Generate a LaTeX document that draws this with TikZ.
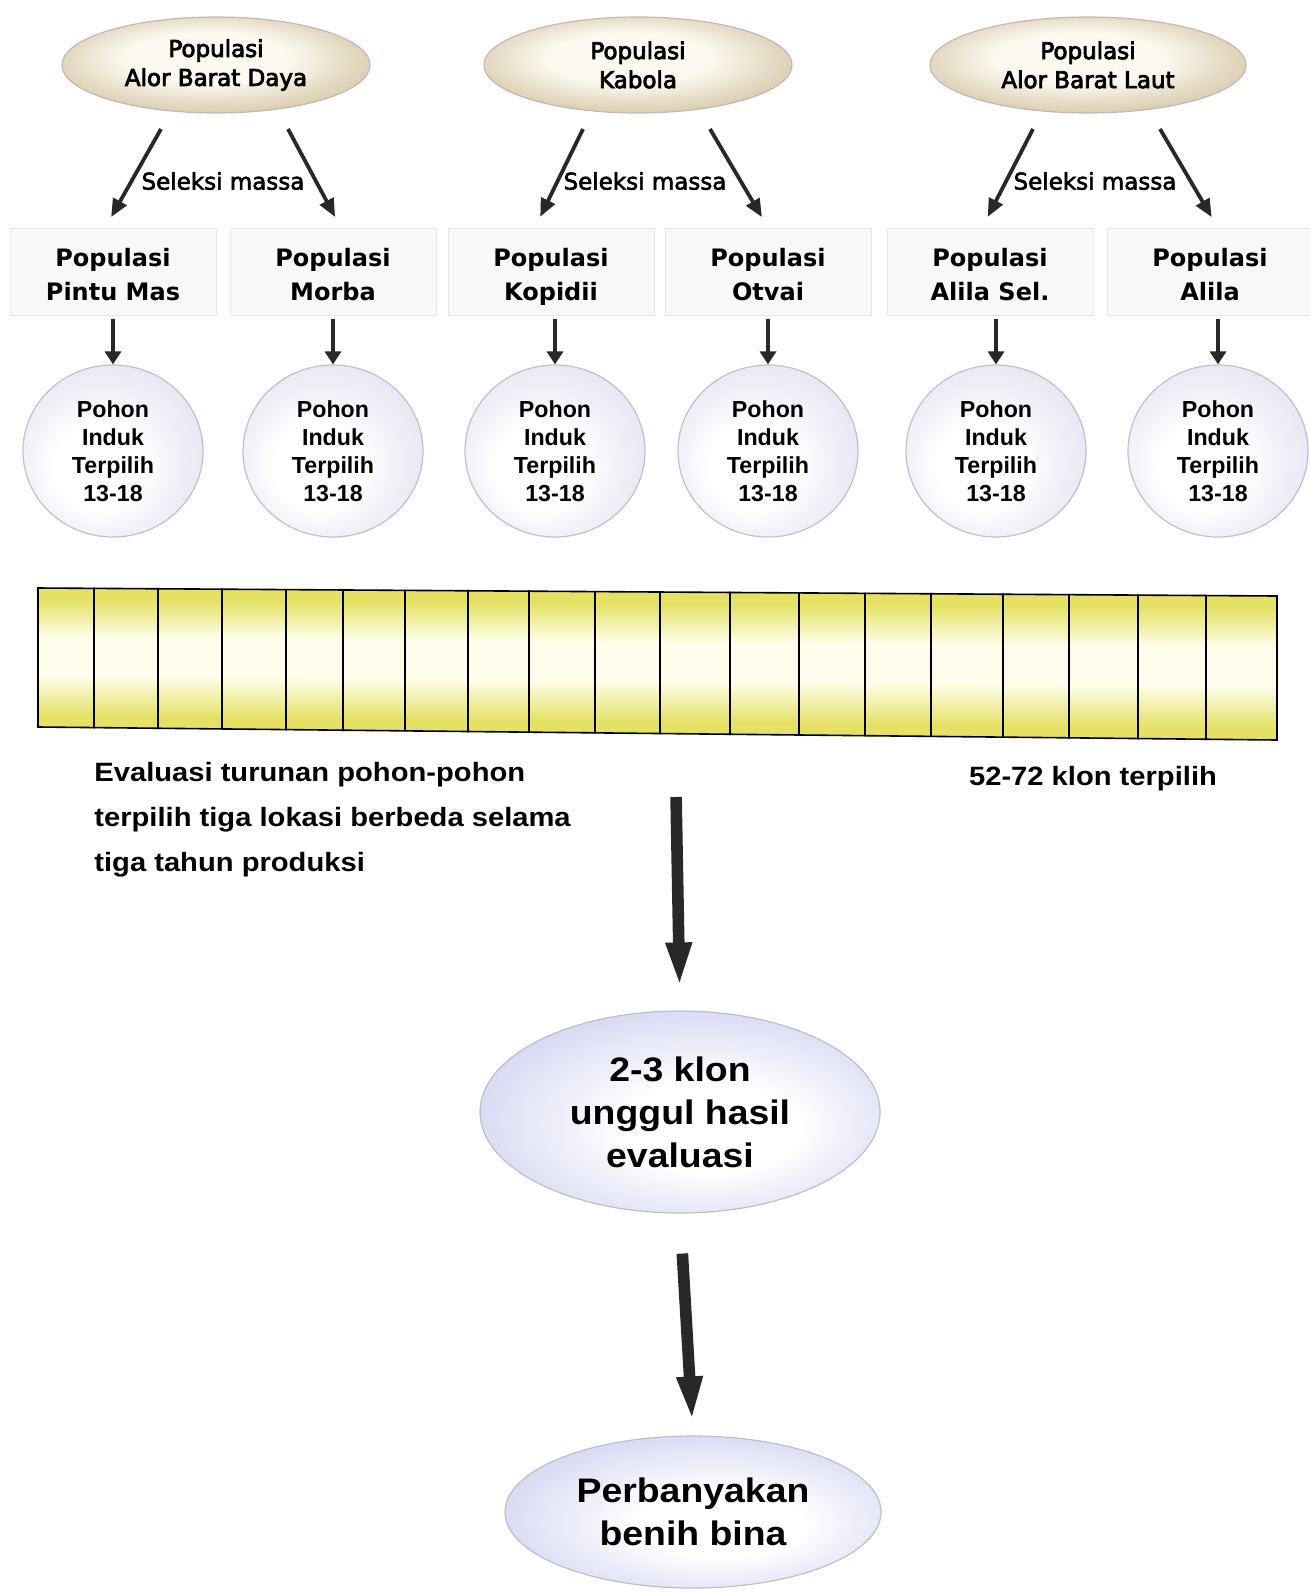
\documentclass[tikz,border=0pt]{standalone}
\usepackage{fontspec}
\usepackage{tikz}
\usetikzlibrary{arrows.meta,calc,shapes.geometric,positioning}

\newfontfamily\popfont[FakeBold=3.5]{DejaVu Sans}
\newfontfamily\selfont[FakeBold=2.5]{DejaVu Sans}
\newfontfamily\boxfont{DejaVu Sans}
\newfontfamily\armfont{Liberation Sans}
\newfontfamily\widefont[FakeStretch=1.1]{Liberation Sans}

\definecolor{popCream}{RGB}{252,250,240}
\definecolor{popBeige}{RGB}{214,199,168}
\definecolor{popEdge}{RGB}{200,182,178}
\definecolor{boxFill}{RGB}{248,248,250}
\definecolor{boxEdge}{RGB}{230,230,236}
\definecolor{circLav}{RGB}{228,222,240}
\definecolor{circEdge}{RGB}{195,190,205}
\definecolor{ovLav}{RGB}{212,214,242}
\definecolor{ovEdge}{RGB}{190,190,202}
\definecolor{barYellow}{RGB}{228,225,100}
\definecolor{barCream}{RGB}{255,254,236}
\definecolor{arrowGray}{RGB}{40,40,40}

\pgfdeclareradialshading{popshade}{\pgfpoint{-2bp}{5bp}}{color(0bp)=(popCream); color(13bp)=(popCream); color(29bp)=(popBeige); color(50bp)=(popBeige)}
\pgfdeclareradialshading{circshade}{\pgfpoint{-6bp}{-6bp}}{color(0bp)=(white); color(12bp)=(white); color(33bp)=(circLav); color(50bp)=(circLav)}
\pgfdeclareradialshading{ovshade}{\pgfpoint{5bp}{-5bp}}{color(0bp)=(white); color(11bp)=(white); color(30bp)=(ovLav); color(50bp)=(ovLav)}
\pgfdeclareverticalshading{barshade}{100bp}{color(0bp)=(barYellow); color(29bp)=(barYellow);
    color(44bp)=(barCream); color(57bp)=(barCream); color(71bp)=(barYellow); color(100bp)=(barYellow)}

\begin{document}
\begin{tikzpicture}[x=0.5pt, y=-0.5pt,
    popnode/.style={ellipse, draw=popEdge, line width=0.6pt, shading=popshade,
        minimum width=154pt, minimum height=48pt, inner sep=0pt, align=center,
        font=\popfont\fontsize{11.5}{14.5}\selectfont},
    popbox/.style={rectangle, draw=boxEdge, fill=boxFill, line width=0.5pt,
        minimum width=103pt, minimum height=43.5pt, inner sep=0pt, align=center,
        text height=31.5pt, text depth=3pt,
        font=\boxfont\bfseries\fontsize{12}{16.8}\selectfont},
    pohon/.style={ellipse, draw=circEdge, line width=0.6pt, shading=circshade,
        minimum width=90pt, minimum height=86pt, inner sep=0pt, align=center,
        font=\armfont\bfseries\fontsize{11.6}{14}\selectfont},
    hasil/.style={ellipse, draw=ovEdge, line width=0.6pt, shading=ovshade,
        inner sep=0pt, align=center,
        font=\widefont\bfseries\fontsize{17}{21.5}\selectfont},
    barcell/.style={draw=black, line width=0.8pt, shading=barshade},
    selarrow/.style={-{Triangle[length=9pt,width=7.5pt]}, line width=1.9pt,
        arrowGray, shorten >=6pt},
    downarrow/.style={-{Triangle[length=6.5pt,width=8pt]}, line width=1.8pt,
        arrowGray, shorten <=1.5pt},
    bigarrow/.style={-{Triangle[length=23pt,width=11.5pt]}, line width=5.8pt,
        arrowGray}]
    \useasboundingbox (0,0) rectangle (1310,1596);

    % source populations
    \node (pop1) [popnode] at (216,65) {Populasi\\Alor Barat Daya};
    \node (pop2) [popnode] at (638,65) {Populasi\\Kabola};
    \node (pop3) [popnode, minimum width=158pt] at (1088,65) {Populasi\\Alor Barat Laut};

    % selected populations
    \node (b1) [popbox] at (113,271.5) {Populasi\\Pintu Mas};
    \node (b2) [popbox] at (333,271.5) {Populasi\\Morba};
    \node (b3) [popbox] at (551,271.5) {Populasi\\Kopidii};
    \node (b4) [popbox] at (768,271.5) {Populasi\\Otvai};
    \node (b5) [popbox] at (990,271.5) {Populasi\\Alila Sel.};
    \node (b6) [popbox] at (1210,271.5) {Populasi\\Alila};

    % mother trees
    \node (c1) [pohon] at (113,451) {Pohon\\Induk\\Terpilih\\13-18};
    \node (c2) [pohon] at (333,451) {Pohon\\Induk\\Terpilih\\13-18};
    \node (c3) [pohon] at (555,451) {Pohon\\Induk\\Terpilih\\13-18};
    \node (c4) [pohon] at (768,451) {Pohon\\Induk\\Terpilih\\13-18};
    \node (c5) [pohon] at (996,451) {Pohon\\Induk\\Terpilih\\13-18};
    \node (c6) [pohon] at (1218,451) {Pohon\\Induk\\Terpilih\\13-18};

    % mass selection arrows
    \foreach \p/\l/\r/\la/\ra in {pop1/b1/b2/100/80, pop2/b3/b4/110/90, pop3/b5/b6/100/80} {
        \coordinate (\p L) at ($(\p)+(-55,64)$);
        \coordinate (\p R) at ($(\p)+(72,64)$);
        \draw[selarrow] (\p L) -- (\l.\la);
        \draw[selarrow] (\p R) -- (\r.\ra);
        \node (\p sel) [font=\selfont\fontsize{11.5}{14}\selectfont] at ($(\p)+(7,116)$) {Seleksi massa};
    }

    \foreach \i in {1,...,6}
        \draw[downarrow] (c\i.north |- b\i.south) -- (c\i.north);

    % evaluation plots
    \foreach \xa/\xb in {38/94,94/158,158/222,222/286,286/343,343/405,405/468,468/529,
            529/595,595/660,660/730,730/799,799/865,865/931,931/1003,1003/1069,
            1069/1138,1138/1206,1206/1277} {
        \pgfmathsetmacro\ta{588+(\xa-38)*8/1239}
        \pgfmathsetmacro\tb{588+(\xb-38)*8/1239}
        \pgfmathsetmacro\ba{727+(\xa-38)*13/1239}
        \pgfmathsetmacro\bb{727+(\xb-38)*13/1239}
        \path[barcell] (\xa,\ta) -- (\xb,\tb) -- (\xb,\bb) -- (\xa,\ba) -- cycle;
    }
    \coordinate (barS) at (675,740);

    \node (evtext) [anchor=west, align=left, inner sep=0pt,
        font=\widefont\bfseries\fontsize{13.25}{22.5}\selectfont] at (94,820)
        {Evaluasi turunan pohon-pohon\\terpilih tiga lokasi berbeda selama\\tiga tahun produksi};
    \node (klontext) [font=\widefont\bfseries\fontsize{13.25}{22.5}\selectfont]
        at (1093,779) {52-72 klon terpilih};

    % final stages
    \node (klon) [hasil, minimum width=200pt, minimum height=101pt] at (680,1112)
        {2-3 klon\\unggul hasil\\evaluasi};
    \node (perb) [hasil, minimum width=188pt, minimum height=76pt] at (693,1512)
        {Perbanyakan\\benih bina};

    \draw[bigarrow, shorten <=28.5pt, shorten >=11pt] (barS) -- (klon.north);
    \draw[bigarrow, shorten <=20pt, shorten >=6.5pt] (klon.south) -- (perb.north);
\end{tikzpicture}
\end{document}
